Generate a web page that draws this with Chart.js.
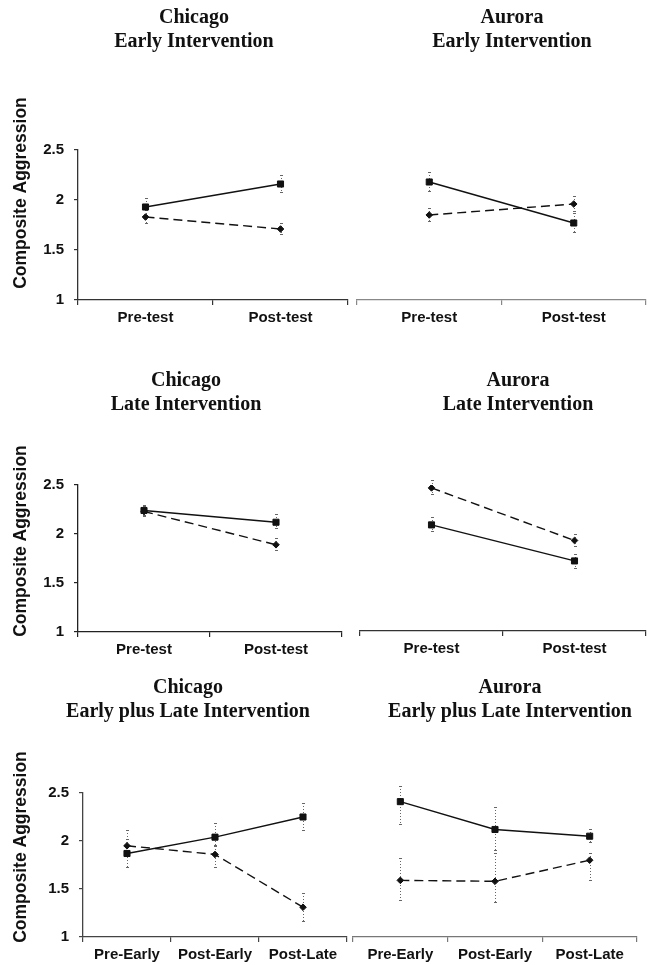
<!DOCTYPE html>
<html>
<head>
<meta charset="utf-8">
<script src="https://cdn.jsdelivr.net/npm/chart.js@4.4.1/dist/chart.umd.min.js"></script>
<style>
  html, body { margin: 0; padding: 0; background: #fff; }
  body { width: 647px; height: 965px; overflow: hidden; position: relative; }
  canvas { position: absolute; }
</style>
</head>
<body>
<canvas id="chiEarly" width="360" height="335" style="left:0;top:0"></canvas>
<canvas id="aurEarly" width="320" height="335" style="left:350px;top:0"></canvas>
<canvas id="chiLate" width="350" height="304" style="left:0;top:363px"></canvas>
<canvas id="aurLate" width="330" height="304" style="left:350px;top:363px"></canvas>
<canvas id="chiBoth" width="355" height="295" style="left:0;top:670px"></canvas>
<canvas id="aurBoth" width="325" height="295" style="left:345px;top:670px"></canvas>
<script>
const prePost = ['Pre-test', 'Post-test'];
const threeWaves = ['Pre-Early', 'Post-Early', 'Post-Late'];
const yTickValues = [1, 1.5, 2, 2.5];
const yAxisTitle = 'Composite Aggression';

// solid line with squares, dashed line with diamonds; Lo/Hi = error bar ends
const chiEarlySolid = [1.93, 2.16];
const chiEarlySolidLo = [1.84, 2.07];
const chiEarlySolidHi = [2.02, 2.25];
const chiEarlyDashed = [1.83, 1.71];
const chiEarlyDashedLo = [1.76, 1.65];
const chiEarlyDashedHi = [1.90, 1.77];

const aurEarlySolid = [2.18, 1.77];
const aurEarlySolidLo = [2.08, 1.67];
const aurEarlySolidHi = [2.28, 1.87];
const aurEarlyDashed = [1.85, 1.96];
const aurEarlyDashedLo = [1.78, 1.88];
const aurEarlyDashedHi = [1.92, 2.04];

const chiLateSolid = [2.24, 2.12];
const chiLateSolidLo = [2.18, 2.05];
const chiLateSolidHi = [2.30, 2.20];
const chiLateDashed = [2.23, 1.89];
const chiLateDashedLo = [2.17, 1.83];
const chiLateDashedHi = [2.29, 1.96];

const aurLateSolid = [2.09, 1.72];
const aurLateSolidLo = [2.02, 1.64];
const aurLateSolidHi = [2.17, 1.79];
const aurLateDashed = [2.47, 1.93];
const aurLateDashedLo = [2.40, 1.86];
const aurLateDashedHi = [2.55, 2.00];

const chiBothSolid = [1.87, 2.04, 2.25];
const chiBothSolidLo = [1.72, 1.95, 2.10];
const chiBothSolidHi = [2.02, 2.19, 2.40];
const chiBothDashed = [1.95, 1.86, 1.31];
const chiBothDashedLo = [1.86, 1.72, 1.16];
const chiBothDashedHi = [2.11, 1.95, 1.46];

const aurBothSolid = [2.41, 2.12, 2.05];
const aurBothSolidLo = [2.17, 1.90, 1.98];
const aurBothSolidHi = [2.57, 2.35, 2.12];
const aurBothDashed = [1.59, 1.58, 1.80];
const aurBothDashedLo = [1.37, 1.35, 1.58];
const aurBothDashedHi = [1.82, 1.88, 1.88];

const sans = '"Liberation Sans", Arial, sans-serif';
const serif = '"Liberation Serif", "Times New Roman", serif';

// dotted error bars with small caps, drawn under the markers
const errorBars = {
    id: 'errorBars',
    beforeDatasetsDraw(chart) {
        const ctx = chart.ctx;
        const y = chart.scales.y;
        chart.data.datasets.forEach((ds, i) => {
            chart.getDatasetMeta(i).data.forEach((pt, j) => {
                const top = Math.round(y.getPixelForValue(ds.errHi[j]));
                const bot = Math.round(y.getPixelForValue(ds.errLo[j]));
                const x = Math.round(pt.x) + 0.5;
                ctx.save();
                ctx.strokeStyle = '#666';
                ctx.lineWidth = 1;
                ctx.setLineDash([1, 2]);
                ctx.beginPath();
                ctx.moveTo(x, top);
                ctx.lineTo(x, bot);
                ctx.stroke();
                ctx.setLineDash([]);
                ctx.beginPath();
                ctx.moveTo(x - 1.5, top + 0.5);
                ctx.lineTo(x + 1.5, top + 0.5);
                ctx.moveTo(x - 1.5, bot - 0.5);
                ctx.lineTo(x + 1.5, bot - 0.5);
                ctx.stroke();
                ctx.restore();
            });
        });
    }
};

function sideTitle(x, y) {
    return {
        id: 'sideTitle',
        afterDraw(chart) {
            const ctx = chart.ctx;
            ctx.save();
            ctx.translate(x, y);
            ctx.rotate(-Math.PI / 2);
            ctx.font = 'bold 17.5px ' + sans;
            ctx.fillStyle = '#111';
            ctx.textAlign = 'center';
            ctx.textBaseline = 'alphabetic';
            ctx.fillText(yAxisTitle, 0, 0);
            ctx.restore();
        }
    };
}

function makePanel(id, p) {
    const yRange = { min: yTickValues[0], max: yTickValues[yTickValues.length - 1] };
    const yLeft = {
        position: 'left',
        min: yRange.min,
        max: yRange.max,
        ticks: {
            stepSize: yTickValues[1] - yTickValues[0],
            callback: v => String(v),
            color: '#111',
            padding: 10,
            font: { family: sans, weight: 'bold', size: 15 }
        },
        grid: { drawOnChartArea: false, tickLength: 4, color: p.axisColor, lineWidth: 1.2 },
        border: { color: p.axisColor, width: 1.3 },
        afterFit: s => { s.width = p.yWidth; }
    };
    const yHidden = {
        position: 'right',
        min: yRange.min,
        max: yRange.max,
        ticks: { display: false },
        grid: { display: false },
        border: { display: false },
        afterFit: s => { s.width = p.yWidth; }
    };
    new Chart(document.getElementById(id), {
        type: 'line',
        data: {
            labels: p.labels,
            datasets: [{
                data: p.solid,
                errLo: p.solidLo,
                errHi: p.solidHi,
                borderColor: '#111',
                borderWidth: 1.4,
                pointStyle: 'rect',
                pointRadius: 4.3,
                pointBackgroundColor: '#111',
                pointBorderColor: '#111',
                pointBorderWidth: 1
            }, {
                data: p.dashed,
                errLo: p.dashedLo,
                errHi: p.dashedHi,
                borderColor: '#111',
                borderWidth: 1.4,
                borderDash: [9, 5],
                pointStyle: 'rectRot',
                pointRadius: 3.3,
                pointBackgroundColor: '#111',
                pointBorderColor: '#111',
                pointBorderWidth: 1
            }]
        },
        options: {
            responsive: false,
            animation: false,
            events: [],
            layout: { padding: p.pad },
            plugins: {
                legend: { display: false },
                tooltip: { enabled: false },
                title: {
                    display: true,
                    text: p.title,
                    color: '#111',
                    font: { family: serif, weight: 'bold', size: 20, lineHeight: '24px' },
                    padding: { top: 6, bottom: p.titleGap }
                }
            },
            scales: {
                x: {
                    offset: true,
                    grid: { offset: true, drawOnChartArea: false, tickLength: 5, color: p.axisColor, lineWidth: 1.2 },
                    border: { color: p.axisColor, width: 1.3 },
                    ticks: {
                        color: '#111',
                        padding: 4,
                        autoSkip: false,
                        maxRotation: 0,
                        font: { family: sans, weight: 'bold', size: 15 }
                    },
                    afterFit: s => { s.height = p.xHeight; }
                },
                y: p.yTitleY !== undefined ? yLeft : yHidden
            }
        },
        plugins: p.yTitleY !== undefined ? [errorBars, sideTitle(26, p.yTitleY)] : [errorBars]
    });
}

makePanel('chiEarly', {
    title: ['Chicago', 'Early Intervention'], labels: prePost,
    solid: chiEarlySolid, solidLo: chiEarlySolidLo, solidHi: chiEarlySolidHi,
    dashed: chiEarlyDashed, dashedLo: chiEarlyDashedLo, dashedHi: chiEarlyDashedHi,
    pad: { left: 40, right: 12, top: 0, bottom: 5 }, titleGap: 96, yWidth: 38, xHeight: 30,
    axisColor: '#333', yTitleY: 193
});
makePanel('aurEarly', {
    title: ['Aurora', 'Early Intervention'], labels: prePost,
    solid: aurEarlySolid, solidLo: aurEarlySolidLo, solidHi: aurEarlySolidHi,
    dashed: aurEarlyDashed, dashedLo: aurEarlyDashedLo, dashedHi: aurEarlyDashedHi,
    pad: { left: 7, right: 3, top: 0, bottom: 5 }, titleGap: 96, yWidth: 21, xHeight: 30,
    axisColor: '#888'
});
makePanel('chiLate', {
    title: ['Chicago', 'Late Intervention'], labels: prePost,
    solid: chiLateSolid, solidLo: chiLateSolidLo, solidHi: chiLateSolidHi,
    dashed: chiLateDashed, dashedLo: chiLateDashedLo, dashedHi: chiLateDashedHi,
    pad: { left: 30, right: 8, top: 0, bottom: 5 }, titleGap: 68, yWidth: 48, xHeight: 30,
    axisColor: '#222', yTitleY: 178
});
makePanel('aurLate', {
    title: ['Aurora', 'Late Intervention'], labels: prePost,
    solid: aurLateSolid, solidLo: aurLateSolidLo, solidHi: aurLateSolidHi,
    dashed: aurLateDashed, dashedLo: aurLateDashedLo, dashedHi: aurLateDashedHi,
    pad: { left: 10, right: 4, top: 0, bottom: 6 }, titleGap: 68, yWidth: 30, xHeight: 30,
    axisColor: '#333'
});
makePanel('chiBoth', {
    title: ['Chicago', 'Early plus Late Intervention'], labels: threeWaves,
    solid: chiBothSolid, solidLo: chiBothSolidLo, solidHi: chiBothSolidHi,
    dashed: chiBothDashed, dashedLo: chiBothDashedLo, dashedHi: chiBothDashedHi,
    pad: { left: 29, right: 8, top: 0, bottom: 0 }, titleGap: 69, yWidth: 54, xHeight: 28,
    axisColor: '#444', yTitleY: 177
});
makePanel('aurBoth', {
    title: ['Aurora', 'Early plus Late Intervention'], labels: threeWaves,
    solid: aurBothSolid, solidLo: aurBothSolidLo, solidHi: aurBothSolidHi,
    dashed: aurBothDashed, dashedLo: aurBothDashedLo, dashedHi: aurBothDashedHi,
    pad: { left: 8, right: 3, top: 0, bottom: 0 }, titleGap: 69, yWidth: 30, xHeight: 28,
    axisColor: '#777'
});
</script>
</body>
</html>
